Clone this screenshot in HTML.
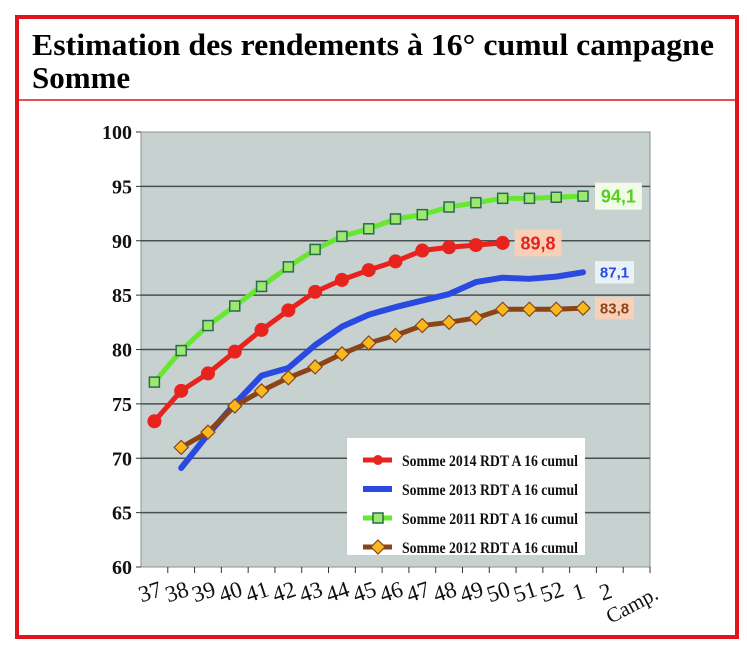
<!DOCTYPE html>
<html><head><meta charset="utf-8"><style>
html,body{margin:0;padding:0;background:#fff;}
svg{display:block;font-family:"Liberation Serif",serif;}
</style></head><body>
<svg id="c" width="747" height="652" xmlns="http://www.w3.org/2000/svg">
<rect x="17" y="17" width="720" height="620" fill="#fff" stroke="#e0141c" stroke-width="4"/>
<line x1="19" y1="100" x2="735" y2="100" stroke="#e0141c" stroke-width="1.5"/>
<text x="32" y="55" font-size="31" font-weight="bold" textLength="682" lengthAdjust="spacingAndGlyphs">Estimation des rendements à 16° cumul campagne</text>
<text x="32" y="88" font-size="31" font-weight="bold">Somme</text>
<rect x="141" y="132" width="509" height="435" fill="#c6d1d0" stroke="#8a9090"/>
<g id="grid"></g><g id="axes"></g><g id="series"></g><g id="labels"></g>
<g>
<rect x="347" y="438" width="238" height="117" fill="#fff"/>
<g id="legend"></g>
</g>
</svg>
<script>
const categories=["37","38","39","40","41","42","43","44","45","46","47","48","49","50","51","52","1","2","Camp."];
const yTicks=[60,65,70,75,80,85,90,95,100];
const s2014=[73.4,76.2,77.8,79.8,81.8,83.6,85.3,86.4,87.3,88.1,89.1,89.4,89.6,89.8];
const s2013=[null,69.1,72.2,75,77.6,78.3,80.4,82.1,83.2,83.9,84.5,85.1,86.2,86.6,86.5,86.7,87.1];
const s2011=[77,79.9,82.2,84,85.8,87.6,89.2,90.4,91.1,92,92.4,93.1,93.5,93.9,93.9,94,94.1];
const s2012=[null,71,72.4,74.8,76.2,77.4,78.4,79.6,80.6,81.3,82.2,82.5,82.9,83.7,83.7,83.7,83.8];
const seriesNames=["Somme 2014 RDT A 16 cumul","Somme 2013 RDT A 16 cumul","Somme 2011 RDT A 16 cumul","Somme 2012 RDT A 16 cumul"];
const endLabels=["89,8","87,1","94,1","83,8"];

const NS="http://www.w3.org/2000/svg";
const L=141,R=650,T=132,B=567,ymin=60,ymax=100;
const bw=(R-L)/categories.length;
const x=i=>L+bw*(i+0.5);
const y=v=>B-(v-ymin)/(ymax-ymin)*(B-T);
function mk(tag,attrs,parent){const e=document.createElementNS(NS,tag);for(const k in attrs)e.setAttribute(k,attrs[k]);document.getElementById(parent).appendChild(e);return e;}

yTicks.forEach(v=>{
  if(v>ymin&&v<ymax){const g=mk('line',{x1:L,x2:R,y1:y(v),y2:y(v),stroke:'#4a5050','stroke-width':1.5},'grid');
  
  }
  const t=mk('line',{x1:L-5,x2:L,y1:y(v),y2:y(v),stroke:'#333'},'axes');
  
  
  const tx=mk('text',{x:L-9,y:y(v)+7,'text-anchor':'end','font-size':20,'font-weight':'bold',fill:'#111'},'axes');
  tx.textContent=v;
  
  
});
categories.forEach((c,i)=>{
  const t=mk('line',{x1:L+bw*(i+1),x2:L+bw*(i+1),y1:B,y2:B+6,stroke:'#333'},'axes');
  
  
  const isC=c==="Camp.";
  const px=isC?L+bw*i+12:x(i)-2, py=isC?B+44:B+32;
  const tx=mk('text',{x:px,y:py,'text-anchor':'middle','font-size':isC?21:23,fill:'#111',transform:`rotate(${isC?-28:-18} ${px} ${py})`},'axes');
  tx.textContent=c;
  
  
});
const cfg=[
 {d:s2014,color:'#e8221d',w:5,m:'circle',name:'series-2014',lbl:{fill:'#f8d0b8',tc:'#e8221d',fs:18,dx:12}},
 {d:s2013,color:'#2a49e0',w:6,m:'none',name:'series-2013',lbl:{fill:'#e8f2f8',tc:'#2a49e0',fs:15,dx:12}},
 {d:s2011,color:'#66e830',w:5,m:'square',name:'series-2011',lbl:{fill:'#f2fbe8',tc:'#55d020',fs:18,dx:12}},
 {d:s2012,color:'#8a4418',w:5,m:'diamond',name:'series-2012',lbl:{fill:'#f8d0b8',tc:'#8a4418',fs:15,dx:12}}
];
function marker(m,cx,cy,color,parent){
  let e;
  if(m==='circle')e=mk('circle',{cx:cx,cy:cy,r:7,fill:color},parent);
  else if(m==='square')e=mk('rect',{x:cx-5,y:cy-5,width:10,height:10,fill:'#9ee870',stroke:'#2a6a50','stroke-width':1.5},parent);
  else if(m==='diamond')e=mk('path',{d:`M${cx} ${cy-7}L${cx+7} ${cy}L${cx} ${cy+7}L${cx-7} ${cy}Z`,fill:'#f8b820',stroke:'#8a4418','stroke-width':1.2},parent);
  return e;
}
cfg.forEach((s,k)=>{
  const pts=[];s.d.forEach((v,i)=>{if(v!=null)pts.push([x(i),y(v)]);});
  const p=mk('polyline',{points:pts.map(q=>q.join(',')).join(' '),fill:'none',stroke:s.color,'stroke-width':s.w,'stroke-linejoin':'round','stroke-linecap':'round'},'series');
  
  
  if(s.m!=='none')pts.forEach(q=>{const e=marker(s.m,q[0],q[1],s.color,'series');
    
    });
  const last=pts[pts.length-1];
  const w=s.lbl.fs*2.6;
  const r=mk('rect',{x:last[0]+s.lbl.dx,y:last[1]-s.lbl.fs*0.75,width:w,height:s.lbl.fs*1.5,fill:s.lbl.fill},'labels');
  
  
  const t=mk('text',{x:last[0]+s.lbl.dx+w/2,y:last[1]+s.lbl.fs*0.36,'text-anchor':'middle','font-family':'Liberation Sans, sans-serif','font-weight':'bold','font-size':s.lbl.fs,fill:s.lbl.tc},'labels');
  t.textContent=endLabels[k];
  
  
  const ly=460+k*29;
  const ll=mk('line',{x1:363,x2:392,y1:ly,y2:ly,stroke:s.color,'stroke-width':s.w},'legend');
  
  
  if(s.m!=='none'){const e=marker(s.m,378,ly,s.color,'legend');
    if(s.m==='circle')e.setAttribute('r',5);
    
    }
  const lt=mk('text',{x:402,y:ly+6,'font-size':16,'font-weight':'bold',fill:'#111',textLength:176,lengthAdjust:'spacingAndGlyphs'},'legend');
  lt.textContent=seriesNames[k];
  
  
});
</script>
</body></html>
